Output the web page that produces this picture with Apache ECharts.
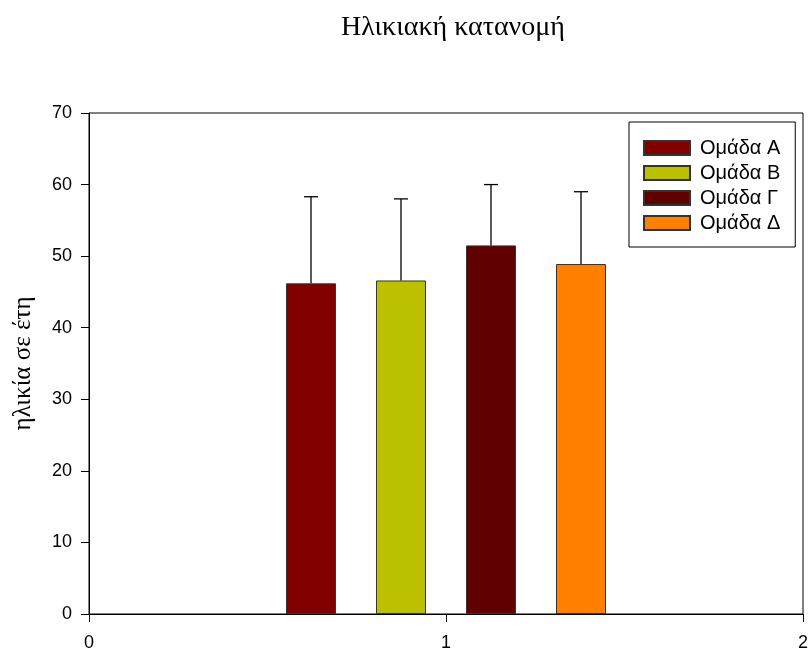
<!DOCTYPE html>
<html>
<head>
<meta charset="utf-8">
<script src="https://cdn.jsdelivr.net/npm/echarts@6/dist/echarts.min.js"></script>
<style>html,body{margin:0;padding:0;background:#fff;}#c{width:811px;height:652px;}</style>
</head>
<body>
<div id="c"></div>
<script>
var groups = ['Ομάδα Α', 'Ομάδα Β', 'Ομάδα Γ', 'Ομάδα Δ'];
var means = [46.2, 46.6, 51.5, 48.9];
var upperErr = [58.3, 58.0, 60.0, 59.0];
var groupX = 1;
var colors = ['#800000', '#bbc000', '#600000', '#ff8000'];
var yTicks = { min: 0, max: 70, interval: 10 };
var xTicks = { min: 0, max: 2, interval: 1 };

var BAR_W = 50, BAR_GAP = 40;
var sans = 'Liberation Sans, Arial, sans-serif';
var serif = 'Liberation Serif, Times New Roman, serif';

var series = groups.map(function (g, i) {
  return {
    name: g,
    type: 'bar',
    barWidth: BAR_W,
    barGap: (BAR_GAP / BAR_W * 100) + '%',
    itemStyle: { color: colors[i], borderColor: '#333', borderWidth: 1 },
    data: [[groupX, means[i]]],
    z: 2
  };
});

series.push({
  type: 'custom',
  name: 'err',
  z: 3,
  data: groups.map(function (g, i) { return [groupX, means[i], upperErr[i], i]; }),
  renderItem: function (params, api) {
    var idx = api.value(3);
    var off = (idx - (groups.length - 1) / 2) * (BAR_W + BAR_GAP);
    var base = api.coord([api.value(0), api.value(1)]);
    var top = api.coord([api.value(0), api.value(2)]);
    var x = base[0] + off;
    var st = { stroke: '#000', lineWidth: 1.3 };
    return {
      type: 'group',
      children: [
        { type: 'line', shape: { x1: x, y1: base[1], x2: x, y2: top[1] }, style: st },
        { type: 'line', shape: { x1: x - 7, y1: top[1], x2: x + 7, y2: top[1] }, style: st }
      ]
    };
  }
});

var chart = echarts.init(document.getElementById('c'));
chart.setOption({
  animation: false,
  backgroundColor: '#fff',
  title: {
    text: 'Ηλικιακή κατανομή',
    left: 448,
    textAlign: 'center',
    top: 9,
    textStyle: { fontFamily: serif, fontSize: 28, fontWeight: 'normal', color: '#000' }
  },
  legend: {
    orient: 'vertical',
    left: 629,
    top: 122,
    data: groups,
    icon: 'rect',
    itemWidth: 46,
    itemHeight: 14,
    itemGap: 5,
    padding: [16, 15, 14, 14],
    borderColor: '#000',
    borderWidth: 1,
    backgroundColor: '#fff',
    textStyle: { fontFamily: sans, fontSize: 20, color: '#000', padding: [0, 0, 0, 5] }
  },
  grid: {
    left: 89, right: 7, top: 113, bottom: 37,
    show: true, borderColor: '#000', borderWidth: 1, backgroundColor: 'transparent'
  },
  xAxis: {
    type: 'value',
    min: xTicks.min, max: xTicks.max, interval: xTicks.interval,
    axisLine: { show: true, lineStyle: { color: '#000', width: 1 } },
    axisTick: { show: true, length: 8, lineStyle: { color: '#000' } },
    axisLabel: { fontFamily: sans, fontSize: 18, color: '#000', margin: 20 },
    splitLine: { show: false }
  },
  yAxis: {
    type: 'value',
    min: yTicks.min, max: yTicks.max, interval: yTicks.interval,
    name: 'ηλικία σε έτη',
    nameLocation: 'middle',
    nameGap: 53,
    nameTextStyle: { fontFamily: serif, fontSize: 25, color: '#000' },
    axisLine: { show: true, lineStyle: { color: '#000', width: 1 } },
    axisTick: { show: true, length: 8, lineStyle: { color: '#000' } },
    axisLabel: { fontFamily: sans, fontSize: 18, color: '#000', margin: 17 },
    splitLine: { show: false }
  },
  series: series
});
</script>
</body>
</html>
